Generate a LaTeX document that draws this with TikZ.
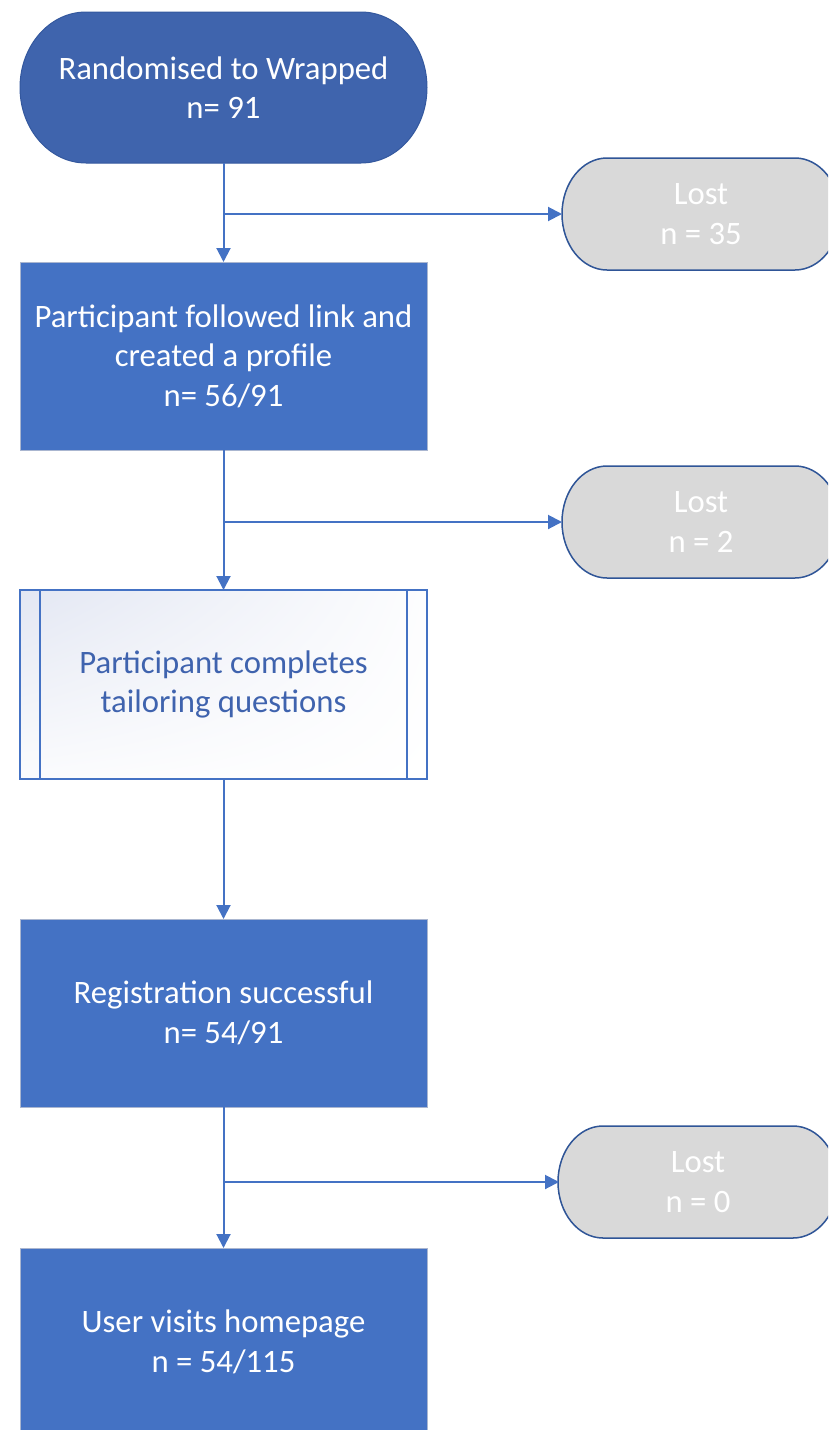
\documentclass[tikz,border=0pt]{standalone}
\usepackage{fontspec}
\setmainfont{Carlito}
\usetikzlibrary{arrows.meta,shadings}
\definecolor{topblue}{HTML}{3F64AD}
\definecolor{topedge}{HTML}{34589E}
\definecolor{boxblue}{HTML}{4472C4}
\definecolor{edgeblue}{HTML}{2F5597}
\definecolor{lostgray}{HTML}{D9D9D9}
\definecolor{boxedge}{HTML}{AAB6D0}
\definecolor{qtext}{HTML}{3F63AE}
\definecolor{qshade}{HTML}{E3E7F3}

% terminator outline: options, centre x, centre y, width, height, end radius
\newcommand{\termshape}[6]{%
  \path[#1] (#2-#4/2+#6,#3-#5/2) -- (#2+#4/2-#6,#3-#5/2)
    arc[start angle=-90,end angle=90,x radius=#6,y radius=#5/2]
    -- (#2-#4/2+#6,#3+#5/2)
    arc[start angle=90,end angle=270,x radius=#6,y radius=#5/2] -- cycle;}

\tikzset{
  txt/.style={font=\fontsize{32.7}{39.5}\selectfont, align=center},
  terminal/.style={txt, rectangle, inner sep=0pt, outer sep=0pt, text=white,
    minimum width=407pt, minimum height=151pt},
  lost/.style={txt, rectangle, inner sep=0pt, outer sep=0pt, text=white,
    minimum width=278pt, minimum height=112pt},
  stepbox/.style={txt, rectangle, inner sep=0pt, outer sep=0pt, text=white,
    fill=boxblue, draw=boxedge, line width=1pt,
    minimum width=407pt, minimum height=188pt},
  predef/.style={txt, rectangle, inner sep=0pt, outer sep=0pt, text=qtext,
    draw=boxblue, line width=2pt, minimum width=407pt, minimum height=189pt,
    upper left=qshade, upper right=white!92!qshade, lower left=white!85!qshade,
    lower right=white},
  flow/.style={draw=boxblue, line width=2pt,
    -{Triangle[length=14pt,width=14pt]}},
}

\begin{document}
\begin{tikzpicture}[x=1pt,y=-1pt]
\useasboundingbox (0,0) rectangle (828,1430);
\clip (0,0) rectangle (828,1430);

% start terminator
\termshape{fill=topblue, draw=topedge, line width=1pt}{223.5}{87.5}{407}{151}{66}
\node[terminal] (start) at (223.5,87.5) {Randomised to Wrapped\\n= 91};

% loss terminators
\termshape{fill=lostgray, draw=edgeblue, line width=1.5pt}{701}{214}{278}{112}{45}
\node[lost] (lostA) at (701,214) {Lost\\n = 35};
\termshape{fill=lostgray, draw=edgeblue, line width=1.5pt}{701}{522}{278}{112}{45}
\node[lost] (lostB) at (701,522) {Lost\\n = 2};
\termshape{fill=lostgray, draw=edgeblue, line width=1.5pt}{698}{1182}{280}{112}{45}
\node[lost] (lostC) at (698,1182) {Lost\\n = 0};

% process steps
\node[stepbox] (profile) at (223.5,356) {Participant followed link and\\created a profile\\n= 56/91};
\node[predef] (tailor) at (223.5,684.5) {Participant completes\\tailoring questions};
\draw[boxblue, line width=2pt] ([xshift=20pt]tailor.north west) -- ([xshift=20pt]tailor.south west);
\draw[boxblue, line width=2pt] ([xshift=-20pt]tailor.north east) -- ([xshift=-20pt]tailor.south east);
\node[stepbox] (reg) at (223.5,1013) {Registration successful\\n= 54/91};
\node[stepbox] (home) at (223.5,1342) {User visits homepage\\n = 54/115};

% main flow
\draw[flow] (start.south) -- (profile.north);
\draw[flow] (profile.south) -- (tailor.north);
\draw[flow] (tailor.south) -- (reg.north);
\draw[flow] (reg.south) -- (home.north);

% drop-out branches
\draw[flow] (start.south |- lostA.west) -- (lostA.west);
\draw[flow] (profile.south |- lostB.west) -- (lostB.west);
\draw[flow] (reg.south |- lostC.west) -- (lostC.west);
\end{tikzpicture}
\end{document}
